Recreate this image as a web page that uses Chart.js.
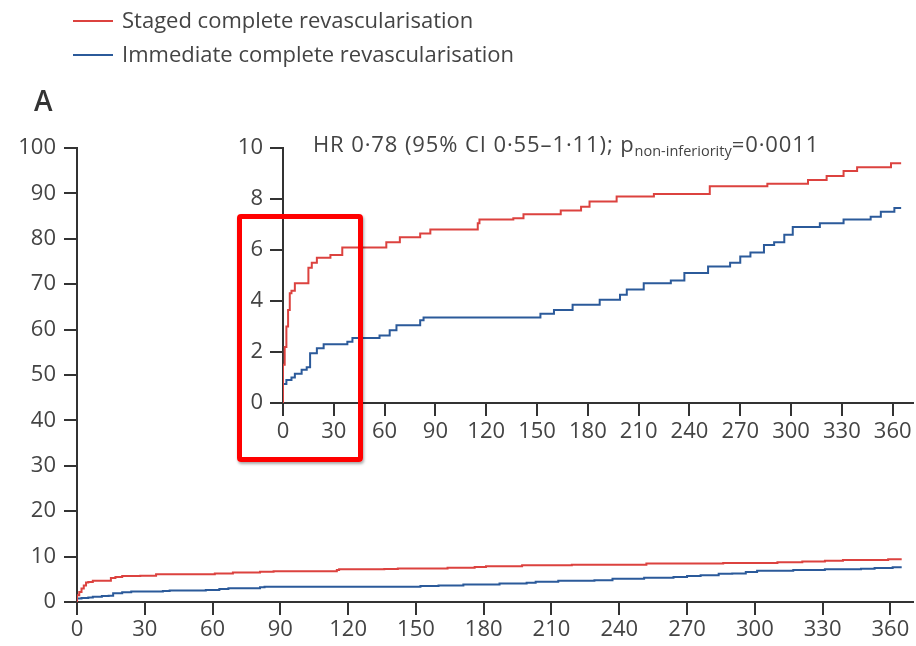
<!DOCTYPE html>
<html>
<head>
<meta charset="utf-8">
<script src="https://cdn.jsdelivr.net/npm/chart.js@4"></script>
<style>
  html, body { margin: 0; padding: 0; background: #fff; }
  #wrap { position: relative; width: 916px; height: 646px; overflow: hidden; font-family: "Open Sans", sans-serif; color: #444; }
  canvas { position: absolute; }
  #main { left: 0; top: 0; }
  #inset { left: 200px; top: 120px; }
  .leg { position: absolute; left: 73px; height: 30px; font-size: 22px; line-height: 30px; white-space: nowrap; }
  .leg span.ln { display: inline-block; width: 40px; height: 2px; vertical-align: middle; margin-right: 9px; position: relative; top: -1px; }
  #panel { position: absolute; left: 34px; top: 81px; font-size: 28px; font-weight: 600; color: #333; }
  #hr { position: absolute; left: 313px; top: 128px; font-size: 22px; letter-spacing: 0.9px; white-space: nowrap; color: #444; }
  #hr sub { font-size: 14.5px; letter-spacing: 0; vertical-align: -4px; line-height: 0; }
  #box { position: absolute; left: 237px; top: 214px; width: 116px; height: 238px; border: 5px solid #ff0000; border-radius: 4px; box-shadow: 1px 2px 3px rgba(0,0,0,0.35); }
</style>
</head>
<body>
<div id="wrap">
  <canvas id="main" width="916" height="646"></canvas>
  <canvas id="inset" width="716" height="340"></canvas>
  <div class="leg" style="top:4px;"><span class="ln" style="background:#dc423f"></span>Staged complete revascularisation</div>
  <div class="leg" style="top:38px;"><span class="ln" style="background:#2b5a9a"></span>Immediate complete revascularisation</div>
  <div id="panel">A</div>
  <div id="hr">HR 0·78 (95% CI 0·55–1·11); p<sub>non-inferiority</sub>=0·0011</div>
  <div id="box"></div>
</div>
<script>
// ---- Data (days, cumulative event %) ----
const seriesNames = ["Staged complete revascularisation", "Immediate complete revascularisation"];
const stagedDays = [0, 0, 1, 2, 3, 4, 5, 7, 15, 17, 20, 28, 35, 61, 69, 81, 87, 115, 116, 136, 142, 164, 176, 181, 197, 219, 252, 286, 310, 321, 331, 339, 359, 365];
const stagedVals = [0, 1.5, 2.2, 3.0, 3.65, 4.3, 4.4, 4.7, 5.3, 5.5, 5.7, 5.8, 6.1, 6.3, 6.5, 6.65, 6.8, 7.05, 7.2, 7.25, 7.4, 7.55, 7.7, 7.9, 8.1, 8.2, 8.5, 8.6, 8.75, 8.9, 9.1, 9.25, 9.4, 9.4];
const immediateDays = [0, 0, 2, 5, 7, 11, 14, 16, 20, 24, 38, 41, 57, 63, 67, 81, 83, 152, 160, 171, 187, 199, 203, 213, 229, 237, 251, 264, 270, 276, 284, 290, 296, 301, 317, 331, 347, 353, 361, 365];
const immediateVals = [0, 0.75, 0.9, 1.0, 1.15, 1.3, 1.4, 1.95, 2.15, 2.3, 2.4, 2.55, 2.65, 2.85, 3.05, 3.25, 3.35, 3.5, 3.65, 3.85, 4.05, 4.25, 4.45, 4.7, 4.8, 5.1, 5.35, 5.5, 5.75, 5.9, 6.2, 6.3, 6.6, 6.9, 7.05, 7.2, 7.3, 7.5, 7.65, 7.65];
const xTicks = [0, 30, 60, 90, 120, 150, 180, 210, 240, 270, 300, 330, 360];
const mainYTicks = [0, 10, 20, 30, 40, 50, 60, 70, 80, 90, 100];
const insetYTicks = [0, 2, 4, 6, 8, 10];

const RED = "#dc423f", BLUE = "#2b5a9a", AX = "#333", TXT = "#444";
const FONT = "'Open Sans', sans-serif";

function pts(d, v) { return d.map((x, i) => ({ x: x, y: v[i] })); }
function datasets() {
  return [
    { label: seriesNames[0], data: pts(stagedDays, stagedVals), borderColor: RED, borderWidth: 2, pointRadius: 0, stepped: true, fill: false },
    { label: seriesNames[1], data: pts(immediateDays, immediateVals), borderColor: BLUE, borderWidth: 2, pointRadius: 0, stepped: true, fill: false }
  ];
}
function axis(ticksArr, min, max, fitProp, fitVal, pad) {
  return {
    type: "linear", min: min, max: max,
    afterBuildTicks: s => { s.ticks = ticksArr.map(v => ({ value: v })); },
    afterFit: s => { s[fitProp] = fitVal; },
    border: { display: true, color: AX, width: 2 },
    grid: { display: true, drawOnChartArea: false, drawTicks: true, tickLength: 13, tickColor: AX, tickWidth: 2, lineWidth: 2 },
    ticks: { color: TXT, font: { family: FONT, size: 22 }, padding: pad, autoSkip: false, maxRotation: 0 }
  };
}
Chart.defaults.animation = false;

new Chart(document.getElementById("main"), {
  type: "line",
  data: { datasets: datasets() },
  options: {
    responsive: false, devicePixelRatio: 1,
    layout: { padding: { top: 148, right: 3, left: 0, bottom: 0 } },
    plugins: { legend: { display: false }, tooltip: { enabled: false } },
    scales: {
      x: axis(xTicks, 0, 370, "height", 44, 2),
      y: axis(mainYTicks, 0, 100, "width", 77, 8)
    }
  }
});

new Chart(document.getElementById("inset"), {
  type: "line",
  data: { datasets: datasets() },
  options: {
    responsive: false, devicePixelRatio: 1,
    layout: { padding: { top: 28, right: 3, left: 0, bottom: 0 } },
    plugins: { legend: { display: false }, tooltip: { enabled: false } },
    scales: {
      x: axis(xTicks, 0, 372, "height", 57, 3),
      y: axis(insetYTicks, 0, 10, "width", 83, 7)
    }
  }
});
</script>
</body>
</html>
